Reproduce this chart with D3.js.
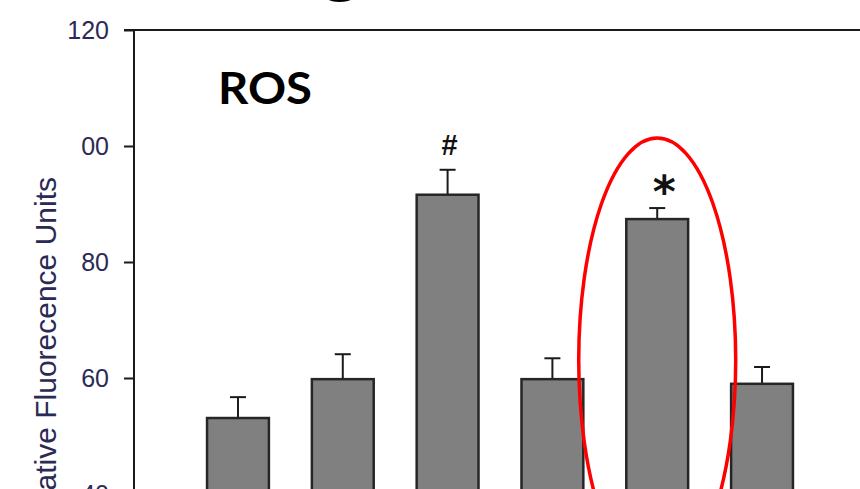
<!DOCTYPE html>
<html>
<head>
<meta charset="utf-8">
<script src="https://cdn.jsdelivr.net/npm/d3@7"></script>
<style>
  html, body { margin: 0; padding: 0; background: #fff; }
  svg { display: block; }
</style>
</head>
<body>
<svg id="chart" width="860" height="489"></svg>
<script>
// ROS assay: mean relative fluorescence per group with SEM
const groups = ["G1", "G2", "G3", "G4", "G5", "G6"];
const means = [53.1, 59.8, 91.6, 59.8, 87.4, 59.0];
const errors = [3.6, 4.3, 4.3, 3.6, 1.9, 2.9];
const marks = ["", "", "#", "", "*", ""];
const tickValues = [0, 20, 40, 60, 80, 100, 120];
const tickLabels = ["0", "20", "40", "60", "80", "00", "120"];
const highlighted = "G5";

const svg = d3.select("#chart");
const W = 860, H = 489;
const plotLeft = 134, plotTop = 30;

const y = d3.scaleLinear().domain([0, 120]).range([726, plotTop]);
const x = d3.scaleBand().domain(groups).range([plotLeft, 866])
  .paddingInner(0.41).paddingOuter(0.697);

// large heading letter above the panel (mostly outside the view)
svg.append("text")
  .attr("x", 316).attr("y", -15)
  .attr("font-family", "Liberation Sans, Arial, sans-serif")
  .attr("font-weight", "bold")
  .attr("font-size", 80)
  .attr("fill", "#000")
  .text("g");

// top frame line
svg.append("line")
  .attr("x1", plotLeft - 10).attr("x2", W)
  .attr("y1", y(120)).attr("y2", y(120))
  .attr("stroke", "#1a1a1a").attr("stroke-width", 2);

// y axis
const yAxis = d3.axisLeft(y)
  .tickValues(tickValues)
  .tickSize(10)
  .tickPadding(15)
  .tickFormat((d, i) => tickLabels[i]);

const gy = svg.append("g")
  .attr("transform", `translate(${plotLeft},0)`)
  .call(yAxis);
gy.select(".domain").remove();
gy.selectAll(".tick line").attr("stroke", "#1a1a1a").attr("stroke-width", 2);
gy.selectAll(".tick text")
  .attr("font-family", "Liberation Sans, Arial, sans-serif")
  .attr("font-size", 25)
  .attr("fill", "#2a2a55");
svg.append("line")
  .attr("x1", plotLeft).attr("x2", plotLeft)
  .attr("y1", plotTop - 1).attr("y2", H + 10)
  .attr("stroke", "#1a1a1a").attr("stroke-width", 2);

// y axis title
svg.append("text")
  .attr("transform", `translate(56,177) rotate(-90)`)
  .attr("text-anchor", "end")
  .attr("font-family", "Liberation Sans, Arial, sans-serif")
  .attr("font-size", 30)
  .attr("fill", "#2a2a55")
  .text("Relative Fluorecence Units");

// panel title
svg.append("text")
  .attr("x", 218).attr("y", 104)
  .attr("font-family", "Lato, Open Sans, sans-serif")
  .attr("font-weight", "bold")
  .attr("font-size", 43)
  .attr("textLength", 94)
  .attr("lengthAdjust", "spacingAndGlyphs")
  .attr("fill", "#000")
  .text("ROS");

const bw = x.bandwidth();
const rows = groups.map((g, i) => ({ g, m: means[i], e: errors[i], mark: marks[i] }));

// error bars (upper whisker only)
const eb = svg.append("g").selectAll("g").data(rows).join("g");
eb.append("line")
  .attr("x1", d => x(d.g) + bw / 2).attr("x2", d => x(d.g) + bw / 2)
  .attr("y1", d => y(d.m)).attr("y2", d => y(d.m + d.e))
  .attr("stroke", "#1a1a1a").attr("stroke-width", 2);
eb.append("line")
  .attr("x1", d => x(d.g) + bw / 2 - 8).attr("x2", d => x(d.g) + bw / 2 + 8)
  .attr("y1", d => y(d.m + d.e)).attr("y2", d => y(d.m + d.e))
  .attr("stroke", "#1a1a1a").attr("stroke-width", 2);

// bars
svg.append("g").selectAll("rect").data(rows).join("rect")
  .attr("x", d => x(d.g))
  .attr("y", d => y(d.m))
  .attr("width", bw)
  .attr("height", d => y(0) - y(d.m))
  .attr("fill", "#808080")
  .attr("stroke", "#262626")
  .attr("stroke-width", 2.5);

// significance marks
svg.append("g").selectAll("text").data(rows.filter(d => d.mark === "#")).join("text")
  .attr("x", d => x(d.g) + bw / 2 + 2)
  .attr("y", d => y(d.m + d.e) - 15)
  .attr("text-anchor", "middle")
  .attr("font-family", "Liberation Sans, Arial, sans-serif")
  .attr("font-weight", "bold")
  .attr("font-size", 29)
  .attr("fill", "#111")
  .text(d => d.mark);
svg.append("g").selectAll("text").data(rows.filter(d => d.mark === "*")).join("text")
  .attr("x", d => x(d.g) + bw / 2 + 7)
  .attr("y", d => y(d.m + d.e) - 1)
  .attr("text-anchor", "middle")
  .attr("font-family", "DejaVu Sans, sans-serif")
  .attr("font-weight", "bold")
  .attr("font-size", 44)
  .attr("fill", "#111")
  .text(d => d.mark);

// red ring around the highlighted group
svg.append("ellipse")
  .attr("cx", x(highlighted) + bw / 2)
  .attr("cy", 360)
  .attr("rx", 78.5)
  .attr("ry", 222)
  .attr("fill", "none")
  .attr("stroke", "#ff0000")
  .attr("stroke-width", 3.5);
</script>
</body>
</html>
